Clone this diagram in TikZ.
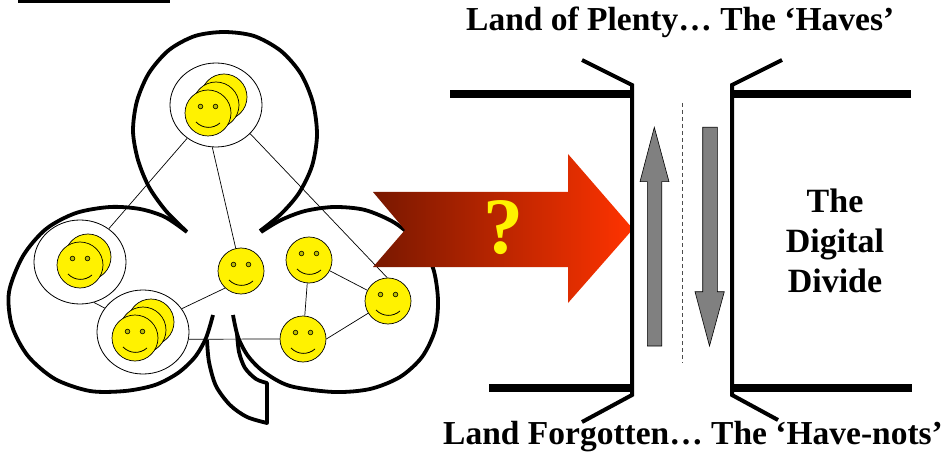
\documentclass[tikz,border=0pt]{standalone}
\usepackage{fontspec}
\setmainfont{Liberation Serif}
\usetikzlibrary{shapes.geometric,backgrounds}

\definecolor{arrowdark}{RGB}{120,24,0}
\definecolor{arrowlight}{RGB}{255,51,0}
\definecolor{eyefill}{RGB}{190,190,0}

% a smiling face: name, x, y
\newcommand\smileyface[3]{%
  \node[face] (#1) at (#2,#3) {};
  \begin{scope}[shift={(#1.center)}]
    \draw[eye] (-7.5,-6.5) circle[radius=2.3pt];
    \draw[eye] (7.5,-6.5) circle[radius=2.3pt];
    \draw[mouth] (-12,9) .. controls (-5,16) and (5,16) .. (12,10);
  \end{scope}}

\begin{document}
\begin{tikzpicture}[x=1pt,y=-1pt,
  club/.style={line width=3.8pt, line join=round},
  cluster/.style={ellipse, draw, line width=0.8pt, fill=white,
    minimum width=92pt, minimum height=84pt, inner sep=0},
  face/.style={circle, draw, line width=0.7pt, fill=yellow,
    minimum size=46pt, inner sep=0},
  eye/.style={draw, line width=0.6pt, fill=eyefill},
  mouth/.style={line width=0.8pt},
  link/.style={line width=0.7pt},
  wall/.style={line width=4pt},
  bar/.style={line width=7.5pt},
  flow/.style={draw, line width=0.6pt, fill=gray},
  bigtext/.style={font=\fontsize{33.5}{40}\selectfont\bfseries, inner sep=0}
]
\useasboundingbox (0,0) rectangle (949,454);

% rule at the top left
\fill (18,0) rectangle (170,3);

% ---- club outline ----
% top lobe
\draw[club] plot[smooth] coordinates {(186,231) (166,211) (149,187) (138,160)
  (133,131) (137,101) (149,73) (169,50) (195,36) (224,32) (254,36) (281,51)
  (301,74) (313,103) (317,135) (312,166) (299,193) (281,214) (260,231)};
% left lobe
\draw[club] plot[smooth] coordinates {(187,232) (165,217) (140,209) (110,207)
  (76,213) (46,229) (23,256) (9,292) (12,326) (28,356) (55,379) (90,391)
  (125,391) (155,385) (178,373) (195,357) (206,338) (213,315)};
% right lobe
\draw[club] plot[smooth] coordinates {(233,315) (238,337) (248,356) (264,372)
  (290,386) (334,392) (370,389) (400,377) (422,357) (435,330) (438,300)
  (433,268) (418,243) (395,223) (365,210) (334,207) (305,211) (281,220) (261,232)};
% stem
\draw[club] plot[smooth] coordinates {(207,340) (209,362) (216,386) (230,405)
  (247,417) (267,423)} -- (267,383)
  -- plot[smooth] coordinates {(267,383) (256,379) (245,368) (239,352) (237,333)};

% ---- groups of people ----
\node[cluster] (ctop) at (216,105) {};
\node[face] (ctop-b2) at (224,97) {};
\node[face] (ctop-b1) at (216,105) {};
\smileyface{ctop-f}{208}{113}

\node[cluster] (cleft) at (80,262) {};
\node[face] (cleft-b1) at (88,257) {};
\smileyface{cleft-f}{80}{265}

\node[cluster] (clow) at (143,332) {};
\node[face] (clow-b2) at (151,322) {};
\node[face] (clow-b1) at (143,330) {};
\smileyface{clow-f}{135}{338}

% ---- single people ----
\smileyface{f1}{241}{271}
\smileyface{f2}{309}{260}
\smileyface{f3}{388}{301}
\smileyface{f4}{303}{339}

% ---- links ----
\begin{pgfonlayer}{background}
  \draw[link] (ctop) -- (cleft);
  \draw[link] (ctop.-95) -- (f1);
  \draw[link] (ctop.-40) -- (f3.92);
  \draw[link] (cleft.-71) -- (clow.148);
  \draw[link] (clow.31) -- (f1.-133);
  \draw[link] (clow.-9) -- (f4.west);
  \draw[link] (f2) -- (f4);
  \draw[link] (f2) -- (f3);
  \draw[link] (f4.east) -- (f3);
\end{pgfonlayer}

% ---- big arrow ----
\shade[left color=arrowdark, right color=arrowlight]
  (373,192) -- (568,192) -- (568,154) -- (633,229) -- (568,303)
  -- (568,267) -- (373,267) -- (405,230) -- cycle;
\node[font=\fontsize{80}{80}\selectfont\bfseries, text=yellow, inner sep=0]
  (quest) at (503,228) {?};

% ---- the divide ----
\draw[bar] (450,94) -- (632,94);
\draw[bar] (489,388) -- (632,388);
\draw[bar] (732,94) -- (911,94);
\draw[bar] (732,388) -- (912,388);
\draw[wall] (582,60) -- (632,85) -- (632,395) -- (582,422);
\draw[wall] (782,60) -- (732,85) -- (732,395) -- (778,420);
\draw[line width=0.8pt, black!70, dash pattern=on 4pt off 3pt] (682,103) -- (682,363);

\draw[flow] (647.3,346) -- (647.3,181.7) -- (640,181.7) -- (654.3,127.3)
  -- (669,181.7) -- (661.7,181.7) -- (661.7,346) -- cycle;
\draw[flow] (702.7,127.3) -- (717.3,127.3) -- (717.3,291.7) -- (724.3,291.7)
  -- (709.5,346) -- (695,291.7) -- (702.7,291.7) -- cycle;

% ---- captions ----
\node[bigtext, anchor=base west] (haves) at (466,31) {Land of Plenty… The ‘Haves’};
\node[bigtext, anchor=base west] (havenots) at (443,444) {Land Forgotten… The ‘Have-nots’};
\node[bigtext, font=\fontsize{34}{40}\selectfont\bfseries, align=center]
  (divide) at (835,240.5) {The\\Digital\\Divide};
\end{tikzpicture}
\end{document}
